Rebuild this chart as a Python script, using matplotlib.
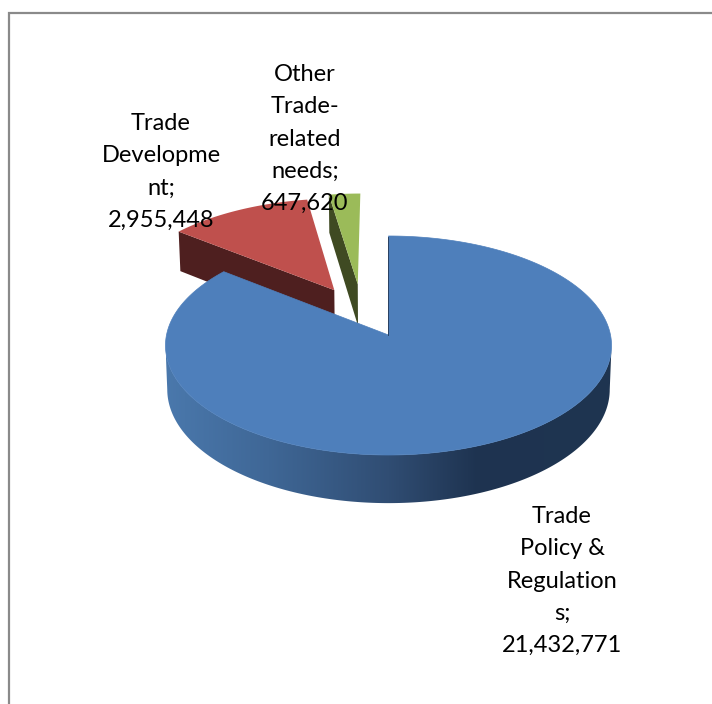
import numpy as np
import matplotlib
matplotlib.use('Agg')
import matplotlib.pyplot as plt
from matplotlib.colors import LinearSegmentedColormap
from matplotlib.patches import Polygon

labels = ['Trade\nPolicy &\nRegulation\ns;', 'Trade\nDevelopme\nnt;', 'Other\nTrade-\nrelated\nneeds;']
values = [21432771, 2955448, 647620]
top_colors = ['#4e7fbb', '#bf504d', '#9bbb59']
side_colors = ['#1e3350', '#4e1f1f', '#3f4a22']

plt.rcParams['font.family'] = ['Lato', 'DejaVu Sans']

# perspective of the pie disc, in pixels
X0, Y0 = 388.5, 335
RX, RY = 222, 108.5
K = 0.0959
THICK = 43.5


def project(u, v, drop=0.0):
    d = 1 - K * v
    shrink = 1 - 0.008 * (drop > 0)
    return X0 + RX * u / d * shrink, Y0 + (RY * v + drop) / d


def arc(a0, a1, off=(0, 0), drop=0.0, n=200):
    # angles clockwise from twelve o'clock
    t = np.radians(np.linspace(a0, a1, n))
    x, y = project(np.sin(t) + off[0], -np.cos(t) + off[1], drop)
    return np.column_stack([x, y])


fig = plt.figure(figsize=(7.12, 7.04), dpi=100)
ax = fig.add_axes([0, 0, 1, 1])

# chart frame, only top and left fall inside
ax.plot([9, 9, 712], [704, 13, 13], color='#8a8a8a', lw=1.6, solid_joinstyle='miter')

angles = np.cumsum([0] + values) / sum(values) * 360

# exploded slices: red along its middle, green shoved mostly backwards
red_mid = np.radians((angles[1] + angles[2]) / 2)
red_off = (0.5 * np.sin(red_mid), -0.5 * np.cos(red_mid))
green_off = (-0.145, -0.49)

# red slice
apex = np.array(project(*red_off))
apex_low = np.array(project(*red_off, THICK))
corner = arc(angles[1], angles[1], red_off, n=1)[0]
corner_low = arc(angles[1], angles[1], red_off, THICK, n=1)[0]
ax.add_patch(Polygon([corner, apex, apex_low, corner_low], fc=side_colors[1], ec='none'))
ax.add_patch(Polygon(np.vstack([[apex], arc(angles[1], angles[2], red_off)]), fc=top_colors[1], ec='none'))

# green slice
apex = np.array(project(*green_off))
apex_low = np.array(project(*green_off, THICK))
corner = arc(angles[2], angles[2], green_off, n=1)[0]
corner_low = arc(angles[2], angles[2], green_off, THICK, n=1)[0]
ax.add_patch(Polygon([corner, apex, apex_low, corner_low], fc=side_colors[2], ec='none'))
ax.add_patch(Polygon(np.vstack([[apex], arc(angles[2], angles[3], green_off)]), fc=top_colors[2], ec='none'))

# blue slice rim with a left to right shading, between the widest points of both ellipses
rim = np.vstack([arc(95.5, 264.5), arc(264.5, 95.5, drop=THICK)])
rim_patch = Polygon(rim, fc='none', ec='none')
ax.add_patch(rim_patch)
stops = [(0.0, '#4a78ac'), (0.23, '#3f6796'), (0.5, '#304d73'), (0.7, '#1e3350'), (1.0, '#1f3551')]
cmap = LinearSegmentedColormap.from_list('rim', stops)
im = ax.imshow(np.linspace(0, 1, 256).reshape(1, -1), cmap=cmap, extent=[166, 612, 520, 300], aspect='auto')
im.set_clip_path(rim_patch)

top = np.vstack([[project(0, 0)], arc(0, angles[1], n=400)])
ax.add_patch(Polygon(top, fc=top_colors[0], ec=top_colors[0], lw=0.5))
ax.plot([X0 - 1, X0 - 1], [237, Y0], color=side_colors[0], lw=0.6)

# data labels, name then value
label_pos = [(562, 581), (161, 172), (305, 139)]
for name, val, (x, y) in zip(labels, values, label_pos):
    ax.text(x, y, f'{name}\n{val:,}', ha='center', va='center', fontsize=17,
            color='black', linespacing=1.65)

ax.set_xlim(0, 712)
ax.set_ylim(704, 0)
ax.axis('off')

plt.savefig('out.png', dpi=100)
